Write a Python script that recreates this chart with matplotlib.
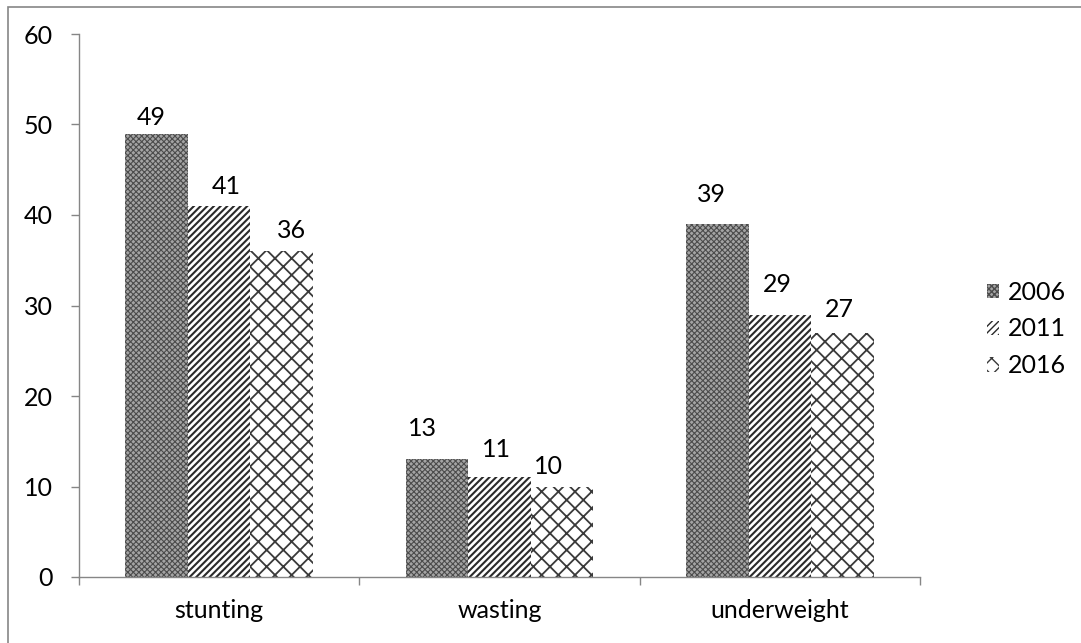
import matplotlib
matplotlib.use("Agg")
import matplotlib.pyplot as plt
from matplotlib.patches import Rectangle
import numpy as np

categories = ["stunting", "wasting", "underweight"]
years = ["2006", "2011", "2016"]
v2006 = [49, 13, 39]
v2011 = [41, 11, 29]
v2016 = [36, 10, 27]
yticks = [0, 10, 20, 30, 40, 50, 60]

# label placement tweaks (pixels: dx, gap above bar) per series, per category
label_dx = [[-5.5, -15, -5.5], [7, -3.5, -2.5], [9.5, -14, -2.5]]
label_gap = [[9, 23, 22], [12, 20, 23], [13, 12, 16]]

plt.rcParams['font.family'] = ['Lato', 'DejaVu Sans']

W, H = 1081, 643
fig = plt.figure(figsize=(W / 100, H / 100), dpi=100)
ax = fig.add_axes([79 / W, 1 - 577 / H, (920 - 79) / W, (577 - 34) / H])

series = [v2006, v2011, v2016]
styles = [
    dict(facecolor="#a4a4a4", hatch="xxxxxx", edgecolor="#4c4c4c"),
    dict(facecolor="white", hatch="/////", edgecolor="#2a2a2a"),
    dict(facecolor="white", hatch="xx", edgecolor="#3a3a3a"),
]
hatch_lw = [0.8, 1.5, 1.3]
FS = 18
x = np.arange(len(categories))
bw = 0.223
px = 1 / 100 * 72  # points per pixel
for i, (vals, st) in enumerate(zip(series, styles)):
    pos = x + (i - 1) * bw
    with plt.rc_context({'hatch.linewidth': hatch_lw[i]}):
        bars = ax.bar(pos, vals, width=bw, linewidth=0, label=years[i], **st)
    for j, b in enumerate(bars):
        ax.annotate(str(vals[j]), (b.get_x() + b.get_width() / 2, b.get_height()),
                    xytext=(label_dx[i][j] * px, label_gap[i][j] * px),
                    textcoords="offset points", ha="center", va="baseline",
                    fontsize=FS, color="black")

ax.set_xlim(-0.5, len(categories) - 0.5)
ax.set_ylim(0, 60)
ax.set_yticks(yticks)
ax.set_xticks(x)
ax.set_xticklabels(categories)
ax.set_xticks(np.arange(len(categories) + 1) - 0.5, minor=True)
ax.tick_params(axis="x", which="major", length=0, pad=16, labelsize=FS)
ax.tick_params(axis="x", which="minor", length=6, width=1, color="#868686", direction="out")
ax.tick_params(axis="y", length=6, width=1, color="#868686", pad=13, labelsize=FS)
for s in ["top", "right"]:
    ax.spines[s].set_visible(False)
for s in ["left", "bottom"]:
    ax.spines[s].set_color("#868686")
    ax.spines[s].set_linewidth(1)

with plt.rc_context({'hatch.linewidth': 1.0}):
    leg = ax.legend(loc="center left", bbox_to_anchor=(987 / W, 1 - 329 / H),
                    bbox_transform=fig.transFigure, frameon=False, fontsize=FS,
                    handlelength=0.5, handleheight=0.5, handletextpad=0.35,
                    labelspacing=0.55, borderpad=0, borderaxespad=0)

# outer frame (top and left edges visible)
frame = Rectangle((8 / W, -0.1), 1.2, 1.1 - 7 / H, transform=fig.transFigure,
                  fill=False, edgecolor="#868686", linewidth=1.2, clip_on=False)
fig.patches.append(frame)

fig.savefig("out.png", dpi=100)
